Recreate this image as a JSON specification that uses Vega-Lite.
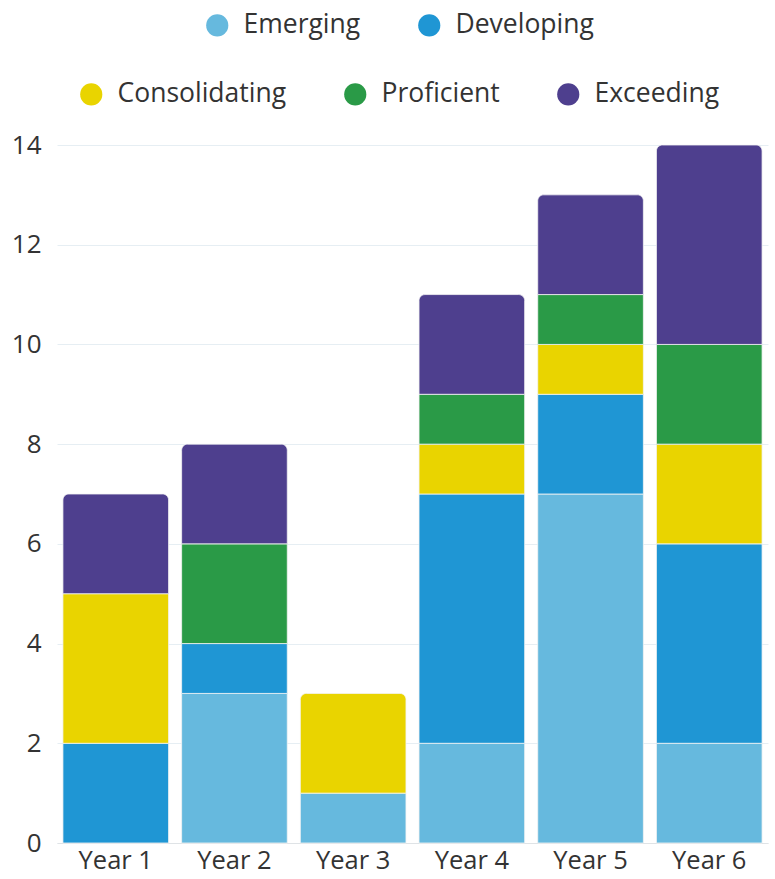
{
  "$schema": "https://vega.github.io/schema/vega-lite/v6.json",
  "width": 711,
  "height": 698,
  "autosize": {"type": "none"},
  "padding": {"left": 57, "top": 145, "right": 7, "bottom": 36},
  "background": "white",
  "config": {
    "font": "Open Sans",
    "view": {"stroke": null},
    "axis": {
      "labelFont": "Open Sans",
      "labelFontSize": 26,
      "labelColor": "#333333",
      "ticks": false,
      "title": null
    },
    "legend": {
      "labelFont": "Open Sans",
      "labelFontSize": 26.5,
      "labelColor": "#333333",
      "labelLimit": 400,
      "symbolType": "circle",
      "symbolSize": 490,
      "symbolStrokeWidth": 0,
      "symbolOpacity": 1,
      "labelOffset": 13,
      "columnPadding": 55,
      "direction": "horizontal",
      "title": null
    }
  },
  "data": {
    "values": [
      {"year": "Year 1", "level": "Developing", "count": 2},
      {"year": "Year 1", "level": "Consolidating", "count": 3},
      {"year": "Year 1", "level": "Exceeding", "count": 2},
      {"year": "Year 2", "level": "Emerging", "count": 3},
      {"year": "Year 2", "level": "Developing", "count": 1},
      {"year": "Year 2", "level": "Proficient", "count": 2},
      {"year": "Year 2", "level": "Exceeding", "count": 2},
      {"year": "Year 3", "level": "Emerging", "count": 1},
      {"year": "Year 3", "level": "Consolidating", "count": 2},
      {"year": "Year 4", "level": "Emerging", "count": 2},
      {"year": "Year 4", "level": "Developing", "count": 5},
      {"year": "Year 4", "level": "Consolidating", "count": 1},
      {"year": "Year 4", "level": "Proficient", "count": 1},
      {"year": "Year 4", "level": "Exceeding", "count": 2},
      {"year": "Year 5", "level": "Emerging", "count": 7},
      {"year": "Year 5", "level": "Developing", "count": 2},
      {"year": "Year 5", "level": "Consolidating", "count": 1},
      {"year": "Year 5", "level": "Proficient", "count": 1},
      {"year": "Year 5", "level": "Exceeding", "count": 2},
      {"year": "Year 6", "level": "Emerging", "count": 2},
      {"year": "Year 6", "level": "Developing", "count": 4},
      {"year": "Year 6", "level": "Consolidating", "count": 2},
      {"year": "Year 6", "level": "Proficient", "count": 2},
      {"year": "Year 6", "level": "Exceeding", "count": 4}
    ]
  },
  "transform": [
    {"calculate": "indexof(['Emerging','Developing','Consolidating','Proficient','Exceeding'], datum.level)", "as": "rank"},
    {"stack": "count", "groupby": ["year"], "sort": [{"field": "rank", "order": "ascending"}], "as": ["y0", "y1"]},
    {"joinaggregate": [{"op": "max", "field": "y1", "as": "total"}], "groupby": ["year"]}
  ],
  "encoding": {
    "x": {
      "field": "year",
      "type": "nominal",
      "sort": ["Year 1", "Year 2", "Year 3", "Year 4", "Year 5", "Year 6"],
      "scale": {"paddingInner": 0.11, "paddingOuter": 0.05},
      "axis": {"labelAngle": 0, "labelPadding": 5, "labelFontSize": 25.5, "domain": true, "domainColor": "#dfe3e6", "grid": false}
    },
    "y": {
      "field": "y1",
      "type": "quantitative",
      "scale": {"domain": [0, 14], "nice": false},
      "axis": {"values": [0, 2, 4, 6, 8, 10, 12, 14], "labelPadding": 16, "domain": false, "grid": true, "gridColor": "#e6eef3", "gridWidth": 1}
    },
    "y2": {"field": "y0"}
  },
  "layer": [
    {
      "transform": [{"filter": "datum.rank < 2"}],
      "mark": {
        "type": "bar",
        "stroke": "#f4f4f4",
        "strokeWidth": 0.8,
        "cornerRadiusTopLeft": {"expr": "datum.y1 == datum.total ? 6 : 0"},
        "cornerRadiusTopRight": {"expr": "datum.y1 == datum.total ? 6 : 0"}
      },
      "encoding": {
        "color": {
          "field": "level",
          "type": "nominal",
          "scale": {"domain": ["Emerging", "Developing"], "range": ["#66b9de", "#1f96d4"]},
          "legend": {"orient": "none", "legendX": 147, "legendY": -133}
        }
      }
    },
    {
      "transform": [{"filter": "datum.rank >= 2"}],
      "mark": {
        "type": "bar",
        "stroke": "#f4f4f4",
        "strokeWidth": 0.8,
        "cornerRadiusTopLeft": {"expr": "datum.y1 == datum.total ? 6 : 0"},
        "cornerRadiusTopRight": {"expr": "datum.y1 == datum.total ? 6 : 0"}
      },
      "encoding": {
        "color": {
          "field": "level",
          "type": "nominal",
          "scale": {"domain": ["Consolidating", "Proficient", "Exceeding"], "range": ["#e9d400", "#2a9a47", "#4e3f8e"]},
          "legend": {"orient": "none", "legendX": 21, "legendY": -64}
        }
      }
    }
  ],
  "resolve": {"scale": {"color": "independent"}}
}
